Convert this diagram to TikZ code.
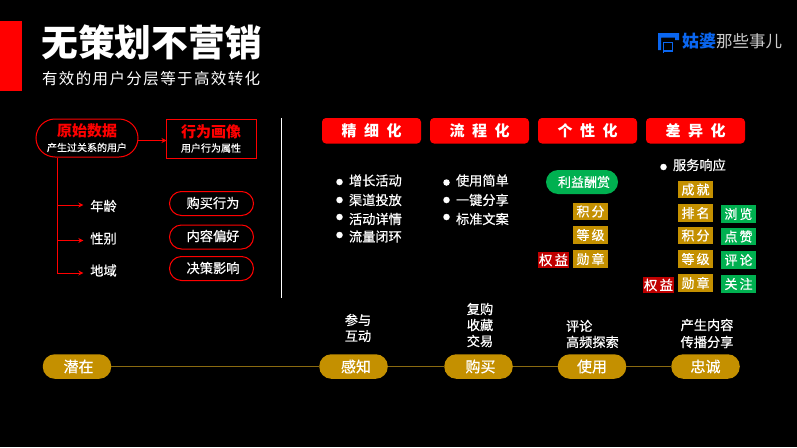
\documentclass[tikz,border=0pt]{standalone}
\usepackage{fontspec}
\setmainfont{Noto Sans CJK SC}
\newfontfamily\cjkm[FakeBold=0.5]{Noto Sans CJK SC}
\newfontfamily\cjkhead[LetterSpace=50]{Noto Sans CJK SC}
\newfontfamily\cjksubt[LetterSpace=9]{Noto Sans CJK SC}
\newfontfamily\cjksub[LetterSpace=16,FakeBold=0.5]{Noto Sans CJK SC}
\usetikzlibrary{arrows.meta}
\definecolor{gold}{HTML}{C49000}
\definecolor{goldline}{HTML}{8A6A10}
\definecolor{grn}{HTML}{00B050}
\definecolor{dred}{HTML}{C00000}
\definecolor{bluelogo}{HTML}{0A66F0}
\newcommand{\fs}[1]{\fontsize{#1}{#1}\selectfont}
\tikzset{
  x=1pt,y=-1pt,
  every node/.style={inner sep=0pt,outer sep=0pt,text=white,align=center},
  body/.style={font=\cjkm\fs{13.2}},
  branchlabel/.style={font=\cjkm\fs{13.2},inner xsep=7pt,inner ysep=2pt},
  redpill/.style={draw=red,line width=1pt,rounded corners=12pt,minimum width=84pt,minimum height=24pt},
  header/.style={fill=red,rounded corners=4pt,minimum width=99pt,minimum height=25.5pt,font=\cjkhead\bfseries\fs{15}},
  goldtag/.style={fill=gold,minimum width=35pt,minimum height=17.5pt,font=\cjksub\fs{13}},
  greentag/.style={fill=grn,minimum width=35pt,minimum height=17.5pt,font=\cjksub\fs{13}},
  redtag/.style={fill=dred,minimum width=31pt,minimum height=16pt,font=\cjksub\fs{13.5}},
  goldpill/.style={fill=gold,rounded corners=12pt,minimum width=68.5pt,minimum height=24.5pt,font=\cjkm\fs{15}},
  dot/.style={circle,fill=white,minimum size=6.5pt},
  redline/.style={draw=red,line width=1pt},
  redarrow/.style={redline,-{Stealth[length=5pt,width=5pt]}},
  goldlink/.style={draw=goldline,line width=1pt}
}
\begin{document}
\begin{tikzpicture}
\fill[black] (0,0) rectangle (797,447);
\useasboundingbox (0,0) rectangle (797,447);
% title
\fill[red] (0,21) rectangle (22,91);
\node[anchor=west,font=\bfseries\fs{36.7}] (title) at (41.5,42) {无策划不营销};
\node[anchor=west,font=\cjksubt\fs{15.5}] (subtitle) at (42,79) {有效的用户分层等于高效转化};
% logo
\fill[bluelogo] (658,33) -- (679,33) -- (679,40) -- (675,40) -- (675,37.5) -- (661,37.5) -- (661,50) -- (658,50) -- cycle;
\draw[bluelogo,line width=1.5pt] (663.5,53) -- (663.5,42.5) -- (672.5,42.5) -- (672.5,51) -- (663.5,51);
\node[anchor=west,font=\bfseries\fs{17},text=bluelogo] (logoa) at (682,41.5) {姑婆};
\node[anchor=west,font=\fs{16.5},text=white!80!black] (logob) at (716,41.5) {那些事儿};
% left panel
\node[redline,rounded corners=19pt,minimum width=102pt,minimum height=38pt] (raw) at (87,138) {};
\node[font=\bfseries\fs{15},text=red] (rawt) at (87,130.5) {原始数据};
\node[font=\cjkm\fs{10}] (raws) at (87,147.5) {产生过关系的用户};
\node[redline,minimum width=90pt,minimum height=39pt] (beh) at (211.5,139) {};
\node[font=\bfseries\fs{15},text=red] (beht) at (211,131.5) {行为画像};
\node[font=\cjkm\fs{10}] (behs) at (211,148) {用户行为属性};
\draw[redarrow] (raw.east |- 0,140.5) -- (beh.west |- 0,140.5);
\coordinate (trunk) at (57.5,158);
\node[branchlabel] (age) at (103.5,206) {年龄};
\node[branchlabel] (sex) at (103.5,238.5) {性别};
\node[branchlabel] (reg) at (103.5,270.5) {地域};
\draw[redarrow] (trunk) |- (age.west |- 0,205);
\draw[redarrow] (trunk) |- (sex.west |- 0,240.5);
\draw[redarrow] (trunk) |- (reg.west |- 0,273);
\node[redpill] (pa) at (211.5,203.5) {};
\node[redpill] (pb) at (211.5,237) {};
\node[redpill] (pc) at (211.5,268.5) {};
\node[body] at (213,203) {购买行为};
\node[body] at (213,236) {内容偏好};
\node[body] at (213,268) {决策影响};
\coordinate (da) at (281.5,118);
\coordinate (db) at (281.5,298);
\draw[white,line width=1pt] (da) -- (db);
% headers
\node[header] (h1) at (371.5,130.75) {精细化};
\node[header] (h2) at (479.5,130.75) {流程化};
\node[header] (h3) at (587.5,130.75) {个性化};
\node[header] (h4) at (695.5,130.75) {差异化};
% col 1
\node[dot] at (339.5,182) {};
\node[dot] at (339.5,200) {};
\node[dot] at (339.5,217) {};
\node[dot] at (339.5,235) {};
\node[body,anchor=west] at (349,180.5) {增长活动};
\node[body,anchor=west] at (349,200) {渠道投放};
\node[body,anchor=west] at (349,219) {活动详情};
\node[body,anchor=west] at (349,236.5) {流量闭环};
% col 2
\node[dot] at (446.5,182.5) {};
\node[dot] at (446.5,200) {};
\node[dot] at (446.5,217) {};
\node[body,anchor=west] at (456,180.5) {使用简单};
\node[body,anchor=west] at (456,200) {一键分享};
\node[body,anchor=west] at (456,219) {标准文案};
% col 3
\node[fill=grn,rounded corners=12pt,minimum width=72pt,minimum height=24pt,font=\cjkm\fs{13}] (reward) at (582,182) {\hspace*{4pt}利益酬赏};
\node[goldtag] at (590.5,211.5) {积分};
\node[goldtag] at (590.5,235) {等级};
\node[goldtag] at (590.5,259) {勋章};
\node[redtag] at (553.5,260) {权益};
% col 4
\node[dot] at (663.5,167) {};
\node[body,anchor=west] at (673,165) {服务响应};
\node[goldtag] at (695.5,189.5) {成就};
\node[goldtag] at (695.5,213) {排名};
\node[goldtag] at (695.5,235.5) {积分};
\node[goldtag] at (695.5,259) {等级};
\node[goldtag] at (695.5,283) {勋章};
\node[redtag] at (658.5,285) {权益};
\node[greentag] at (738.5,214) {浏览};
\node[greentag] at (738.5,236.5) {点赞};
\node[greentag] at (738.5,260) {评论};
\node[greentag] at (738.5,284) {关注};
% timeline
\node[goldpill] (s1) at (77,366.5) {\hspace*{3pt}潜在};
\node[goldpill] (s2) at (353.5,366.5) {\hspace*{5pt}感知};
\node[goldpill] (s3) at (478.5,366.5) {\hspace*{4pt}购买};
\node[goldpill] (s4) at (592,366.5) {使用};
\node[goldpill] (s5) at (705.5,366.5) {忠诚};
\draw[goldlink] (s1) -- (s2);
\draw[goldlink] (s2) -- (s3);
\draw[goldlink] (s3) -- (s4);
\draw[goldlink] (s4) -- (s5);
\node[body] at (358,320) {参与};
\node[body] at (358,336) {互动};
\node[body] at (480,309) {复购};
\node[body] at (480,325) {收藏};
\node[body] at (480,341) {交易};
\node[body,anchor=west] at (566,326) {评论};
\node[body,anchor=west] at (566,342) {高频探索};
\node[body] at (707,325) {产生内容};
\node[body] at (707,342) {传播分享};
\end{tikzpicture}
\end{document}
